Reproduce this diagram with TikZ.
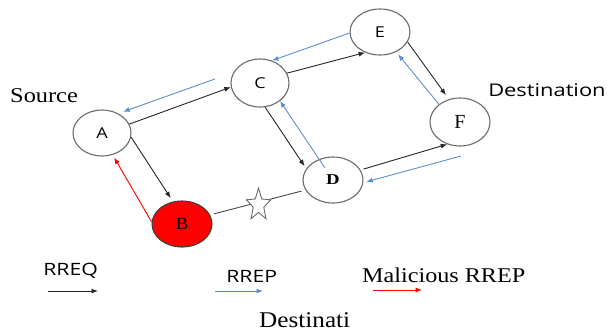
\documentclass[tikz,border=0pt]{standalone}
\usepackage{fontspec}
\setmainfont{Liberation Serif}
\newfontfamily\osans{Open Sans}
\usetikzlibrary{arrows.meta,shapes.geometric}
\definecolor{rrepblue}{HTML}{5B8FD0}
\definecolor{rimgray}{HTML}{6B6B6B}
\definecolor{reqblack}{HTML}{262626}
\begin{document}
\begin{tikzpicture}[x=1pt,y=-1pt,
  station/.style={ellipse,draw=rimgray,line width=1.1pt,fill=white,inner sep=0pt,
                  minimum width=60pt,minimum height=46pt},
  tip/.style={-{Latex[length=6.5pt,width=5pt]}},
  rreq/.style={tip,draw=reqblack,line width=0.9pt},
  rrep/.style={tip,draw=rrepblue,line width=0.9pt},
  fake/.style={tip,draw=red,line width=0.9pt},
  label/.style={anchor=base west,inner sep=0pt},
  sanslbl/.style={font=\osans\fontsize{15}{15}\selectfont},
]
\useasboundingbox (0,0) rectangle (608,333);

% stations
\node[station,sanslbl,minimum width=58pt] (A) at (102,133) {\scalebox{1.2}[1]{A}};
\node[station,sanslbl,minimum width=58pt,minimum height=48pt] (C) at (260,83) {\scalebox{1.2}[1]{C}};
\node[station,sanslbl] (E) at (380,32) {\scalebox{1.2}[1]{E}};
\node[station,minimum height=48pt,font=\fontsize{20}{20}\selectfont] (F) at (460,122) {F};
\node[station,font=\bfseries\fontsize{15}{15}\selectfont] (D) at (333,180) {\scalebox{1.25}[1]{D}};
\node[station,fill=red,draw=black!75,font=\fontsize{17}{17}\selectfont] (B) at (182,224) {\scalebox{1.1}[1]{B}};

% free starting points of reply arrows
\coordinate (cAstart) at (215,79);
\coordinate (cDstart) at (325,168);
\coordinate (cFstart) at (461,156);

% route requests
\draw[rreq] (A.18) -- (C.188);
\draw[rreq,shorten >=4pt] (A.-8) -- (B.112);
\draw[rreq,shorten >=3pt] (C.-78) -- (D.157);
\draw[rreq] (C.20) -- (E.234);
\draw[rreq,shorten >=5pt] (E.-20) -- (F.116);
\draw[rreq,shorten <=3pt] (D.20) -- (F.240);

% route replies
\draw[rrep,shorten >=5pt] (cAstart) -- (A.50);
\draw[rrep] (cDstart) -- (C.-42);
\draw[rrep] (E.182) -- (C.62);
\draw[rrep,shorten >=3pt] (F.140) -- (E.-51);
\draw[rrep,shorten >=3pt] (cFstart) -- (D.-5);

% malicious reply
\draw[fake,shorten >=3pt] (B.176) -- (A.-64);

% broken link B--D
\draw[reqblack!85,line width=0.9pt,shorten <=4pt,shorten >=4pt] (B.18) -- (D.200);
\node[star,star points=5,star point ratio=2.3,minimum size=34pt,inner sep=0pt,
      draw=rimgray,fill=white,line width=0.9pt,xscale=0.75] (star) at (258.5,205) {};

% captions
\node[label,xscale=1.16,font=\fontsize{21}{21}\selectfont] (src) at (10,102) {Source};
\node[label,xscale=1.25,font=\osans\fontsize{17.5}{17.5}\selectfont] (dst) at (488,96) {Destination};

% legend
\node[label,xscale=1.25,font=\osans\fontsize{17}{17}\selectfont] (lreq) at (43,275) {RREQ};
\node[label,xscale=1.25,font=\osans\fontsize{17}{17}\selectfont] (lrep) at (226,282) {RREP};
\node[label,xscale=1.15,font=\fontsize{21}{21}\selectfont] (lfake) at (362,282) {Malicious RREP};
\coordinate (q1) at (48,291);  \coordinate (q2) at (98,291);
\coordinate (p1) at (215,291); \coordinate (p2) at (263,291);
\coordinate (m1) at (373,290); \coordinate (m2) at (422,290);
\draw[rreq] (q1) -- (q2);
\draw[rrep] (p1) -- (p2);
\draw[fake] (m1) -- (m2);

\node[label,xscale=1.12,font=\fontsize{22.5}{22.5}\selectfont] (cut) at (259,327) {Destinati};
\end{tikzpicture}
\end{document}
